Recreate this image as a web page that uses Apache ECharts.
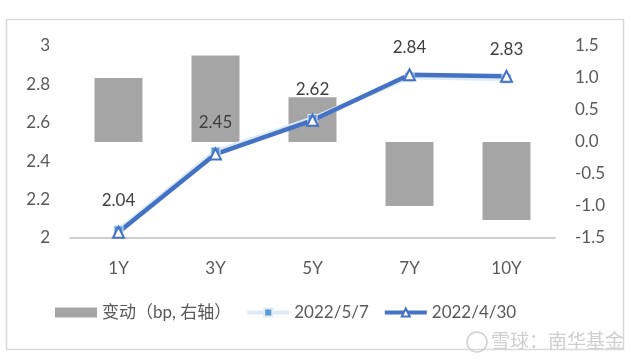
<!DOCTYPE html>
<html><head><meta charset="utf-8">
<script src="https://cdn.jsdelivr.net/npm/echarts@6/dist/echarts.min.js"></script>
<style>html,body{margin:0;padding:0;background:#fff}#c{width:640px;height:364px}</style>
</head><body><div id="c"></div>
<script>
const categories = ['1Y', '3Y', '5Y', '7Y', '10Y'];
const changeBp = [1.0, 1.35, 0.70, -1.0, -1.22];
const yield0507 = [2.04, 2.45, 2.62, 2.84, 2.83];
const yield0430 = [2.03, 2.437, 2.613, 2.85, 2.842];
const leftTicks = [2, 2.2, 2.4, 2.6, 2.8, 3];
const rightTicks = [-1.5, -1.0, -0.5, 0.0, 0.5, 1.0, 1.5];

const FONT = 'Lato, "Noto Sans CJK SC", sans-serif';
const chart = echarts.init(document.getElementById('c'), null, {renderer: 'canvas'});
chart.setOption({
  animation: false,
  textStyle: {fontFamily: FONT},
  graphic: [
    {type: 'rect', shape: {x: 6.5, y: 19.5, width: 617, height: 330}, style: {fill: 'none', stroke: '#d9d9d9', lineWidth: 1.5}, z: -1},
    {type: 'circle', shape: {cx: 477, cy: 342, r: 10}, style: {fill: 'none', stroke: '#cfcfcf', lineWidth: 1.5}},
    {type: 'text', left: 491, top: 331, style: {text: '雪球：南华基金', fill: '#cfcfcf', font: '19px "Noto Sans CJK SC"'}}
  ],
  grid: {left: 70, right: 85, top: 46, bottom: 126},
  legend: {
    bottom: 38, left: 50,
    itemGap: 14,
    itemWidth: 42, itemHeight: 10,
    textStyle: {fontSize: 17, color: '#595959', fontFamily: FONT},
    data: [
      {name: '变动（bp, 右轴）', icon: 'rect'},
      {name: '2022/5/7', lineStyle: {width: 4}},
      {name: '2022/4/30', lineStyle: {width: 4}}
    ]
  },
  xAxis: {
    type: 'category', data: categories,
    axisLine: {show: true, onZero: false, lineStyle: {color: '#d0d0d0', width: 2}},
    axisTick: {show: false},
    axisLabel: {color: '#595959', fontSize: 17, margin: 22}
  },
  yAxis: [
    {type: 'value', min: 2, max: 3, interval: 0.2,
     splitLine: {show: false}, axisLine: {show: false}, axisTick: {show: false},
     axisLabel: {color: '#595959', fontSize: 17, margin: 20,
       formatter: v => { const t = leftTicks.find(x => Math.abs(x - v) < 1e-6); return t === undefined ? '' : String(t); }}},
    {type: 'value', min: -1.5, max: 1.5, interval: 0.5,
     splitLine: {show: false}, axisLine: {show: false}, axisTick: {show: false},
     axisLabel: {color: '#595959', fontSize: 17, margin: 20,
       formatter: v => { const t = rightTicks.find(x => Math.abs(x - v) < 1e-6); return t === undefined ? '' : t.toFixed(1); }}}
  ],
  series: [
    {name: '变动（bp, 右轴）', type: 'bar', yAxisIndex: 1, data: changeBp, barWidth: 48,
     itemStyle: {color: '#a5a5a5'}},
    {name: '2022/5/7', type: 'line', yAxisIndex: 0, data: yield0507,
     lineStyle: {color: '#deebf7', width: 5}, itemStyle: {color: '#5b9bd5', borderColor: '#deebf7', borderWidth: 1},
     symbol: 'rect', symbolSize: 9,
     label: {show: true, position: 'top', distance: 16, fontSize: 17, color: '#404040', formatter: p => p.value.toFixed(2)}},
    {name: '2022/4/30', type: 'line', yAxisIndex: 0, data: yield0430,
     lineStyle: {color: '#4472c4', width: 4.5}, itemStyle: {color: '#ffffff', borderColor: '#4472c4', borderWidth: 2},
     symbol: 'triangle', symbolSize: 11}
  ]
});
</script></body></html>
